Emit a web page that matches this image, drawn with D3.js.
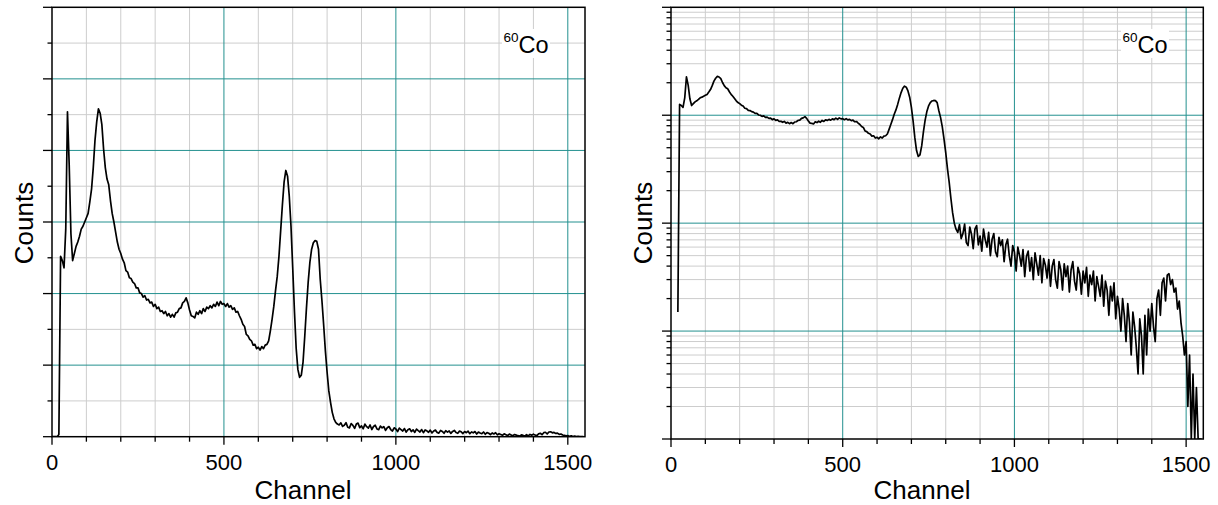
<!DOCTYPE html>
<html lang="en">
  <head>
    <meta charset="UTF-8" />
    <title>60Co spectrum - linear and log</title>
    <script src="https://d3js.org/d3.v7.min.js"></script>
    <style>
      body { margin: 0; background: #fff; }
      text { font-family: "Liberation Sans", Arial, Helvetica, sans-serif; fill: #000; }
    </style>
  </head>
  <body>
    <svg id="chart" width="1218" height="505"></svg>

    <script>
      // spectrum, one value every 5 channels starting at channel 0
      const channelStep = 5;
      const counts = [
        0, 0, 0, 0, 15, 1260, 1230, 1180, 1450, 2270,
        1900, 1420, 1230, 1280, 1330, 1360, 1400, 1450, 1470, 1500,
        1530, 1560, 1640, 1730, 1880, 2070, 2200, 2290, 2260, 2180,
        2010, 1880, 1800, 1760, 1650, 1560, 1500, 1430, 1360, 1310,
        1280, 1240, 1215, 1160, 1150, 1110, 1105, 1080, 1070, 1040,
        1040, 1005, 1000, 975, 985, 955, 960, 935, 940, 910,
        925, 895, 905, 875, 880, 860, 875, 845, 860, 835,
        855, 835, 865, 870, 895, 900, 935, 945, 970, 935,
        885, 845, 840, 830, 870, 855, 880, 860, 895, 875,
        905, 895, 915, 900, 925, 910, 940, 915, 945, 925,
        930, 910, 930, 905, 915, 890, 900, 870, 875, 845,
        820, 785, 770, 715, 705, 680, 670, 640, 645, 615,
        625, 605, 630, 615, 640, 645, 670, 740, 820, 910,
        1020, 1120, 1260, 1440, 1620, 1780, 1860, 1820, 1680, 1470,
        1180, 880, 620, 470, 415, 430, 520, 700, 900, 1080,
        1220, 1310, 1355, 1370, 1365, 1310, 1100, 950, 780, 600,
        450, 320, 240, 170, 125, 100, 88, 82, 97, 72,
        80, 98, 66, 62, 92, 79, 58, 88, 95, 63,
        76, 55, 88, 70, 60, 82, 50, 71, 80, 54,
        49, 74, 62, 70, 44, 63, 71, 50, 40, 62,
        54, 36, 60, 50, 40, 57, 32, 49, 55, 36,
        48, 30, 53, 42, 33, 50, 28, 47, 41, 31,
        46, 26, 40, 46, 30, 25, 44, 37, 24, 42,
        32, 40, 23, 37, 44, 29, 24, 39, 34, 22,
        36, 28, 39, 21, 33, 27, 36, 19, 32, 26,
        21, 33, 17, 29, 24, 14, 26, 19, 28, 13,
        21, 16, 10, 20, 14, 8, 18, 12, 6, 15,
        11, 7, 4, 13, 9, 4, 14, 6, 16, 10,
        18, 11, 8, 20, 24, 14, 28, 31, 19, 33,
        34, 27, 30, 23, 25, 16, 19, 12, 9, 6,
        8, 2, 6, 1, 4, 1, 3, 1, 1, 1
      ];
      const channels = counts.map((d, i) => i * channelStep);

      const channelDomain = [0, 1550];
      const xMajorTicks = [0, 500, 1000, 1500];
      const xMinorTicks = [100, 200, 300, 400, 600, 700, 800, 900, 1100, 1200, 1300, 1400];

      const linDomain = [0, 3000];
      const linMajorTicks = [0, 500, 1000, 1500, 2000, 2500, 3000];
      const linMinorTicks = [250, 750, 1250, 1750, 2250, 2750];

      const logDomain = [1, 10000];
      const logMajorTicks = [1, 10, 100, 1000, 10000];
      const logMinorTicks = [
        2, 3, 4, 5, 6, 7, 8, 9,
        20, 30, 40, 50, 60, 70, 80, 90,
        200, 300, 400, 500, 600, 700, 800, 900,
        2000, 3000, 4000, 5000, 6000, 7000, 8000, 9000
      ];

      const grey = "#cdcdcd";
      const teal = "#23908f";

      const svg = d3.select("#chart");
      const data = channels.map((c, i) => ({ ch: c, v: counts[i] }));

      function drawPanel(p) {
        const g = svg.append("g");
        const x = d3.scaleLinear().domain(channelDomain).range([p.left, p.right]);
        const y = p.y;

        // grid
        g.selectAll(".vminor").data(xMinorTicks).enter().append("line")
          .attr("x1", (d) => x(d)).attr("x2", (d) => x(d))
          .attr("y1", p.top).attr("y2", p.bottom)
          .attr("stroke", grey).attr("stroke-width", 1);
        g.selectAll(".hminor").data(p.minor).enter().append("line")
          .attr("x1", p.left).attr("x2", p.right)
          .attr("y1", (d) => y(d)).attr("y2", (d) => y(d))
          .attr("stroke", grey).attr("stroke-width", 1);
        g.selectAll(".vmajor").data(xMajorTicks.slice(1)).enter().append("line")
          .attr("x1", (d) => x(d)).attr("x2", (d) => x(d))
          .attr("y1", p.top).attr("y2", p.bottom)
          .attr("stroke", teal).attr("stroke-width", 1);
        g.selectAll(".hmajor").data(p.major.slice(1, -1)).enter().append("line")
          .attr("x1", p.left).attr("x2", p.right)
          .attr("y1", (d) => y(d)).attr("y2", (d) => y(d))
          .attr("stroke", teal).attr("stroke-width", 1);

        // spectrum
        g.append("clipPath").attr("id", "clip" + p.id).append("rect")
          .attr("x", p.left).attr("y", p.top)
          .attr("width", p.right - p.left).attr("height", p.bottom - p.top);
        const line = d3.line()
          .defined((d) => !p.log || d.v > 0)
          .x((d) => x(d.ch))
          .y((d) => y(d.v));
        g.append("path")
          .datum(data)
          .attr("clip-path", `url(#clip${p.id})`)
          .attr("fill", "none")
          .attr("stroke", "#000")
          .attr("stroke-width", 1.7)
          .attr("stroke-linejoin", "round")
          .attr("d", line);

        // frame
        g.append("rect")
          .attr("x", p.left).attr("y", p.top)
          .attr("width", p.right - p.left).attr("height", p.bottom - p.top)
          .attr("fill", "none").attr("stroke", "#000").attr("stroke-width", 1.5);

        // ticks
        const yTicks = p.major.map((d) => ({ v: d, len: 9 }))
          .concat(p.minor.map((d) => ({ v: d, len: 4.5 })));
        g.selectAll(".ytick").data(yTicks).enter().append("line")
          .attr("x1", (d) => p.left - d.len).attr("x2", p.left)
          .attr("y1", (d) => y(d.v)).attr("y2", (d) => y(d.v))
          .attr("stroke", "#000").attr("stroke-width", 1.3);
        const xTicks = xMajorTicks.map((d) => ({ v: d, len: 8 }))
          .concat(xMinorTicks.map((d) => ({ v: d, len: 5 })));
        g.selectAll(".xtick").data(xTicks).enter().append("line")
          .attr("x1", (d) => x(d.v)).attr("x2", (d) => x(d.v))
          .attr("y1", p.bottom).attr("y2", (d) => p.bottom + d.len)
          .attr("stroke", "#000").attr("stroke-width", 1.3);

        g.selectAll(".xlabel").data(xMajorTicks).enter().append("text")
          .attr("x", (d) => x(d)).attr("y", p.bottom + 33)
          .attr("text-anchor", "middle").attr("font-size", 22)
          .text((d) => d);

        g.append("text")
          .attr("x", p.left + 251).attr("y", 498.5)
          .attr("text-anchor", "middle").attr("font-size", 26)
          .text("Channel");

        g.append("text")
          .attr("transform", `translate(${p.left - 19.5},223) rotate(-90)`)
          .attr("text-anchor", "middle").attr("font-size", 26)
          .text("Counts");

        // isotope tag
        g.append("rect")
          .attr("x", p.left + 450).attr("y", 29)
          .attr("width", 48).attr("height", 29)
          .attr("fill", "#fff");
        g.append("text")
          .attr("x", p.left + 466.5).attr("y", 41.5)
          .attr("text-anchor", "end").attr("font-size", 13.5)
          .text("60");
        g.append("text")
          .attr("x", p.left + 466.5).attr("y", 53)
          .attr("font-size", 23.5)
          .text("Co");
      }

      drawPanel({
        id: "lin",
        left: 52, right: 585, top: 7.3, bottom: 436.7,
        y: d3.scaleLinear().domain(linDomain).range([436.7, 7.3]),
        major: linMajorTicks, minor: linMinorTicks, log: false
      });

      drawPanel({
        id: "log",
        left: 671, right: 1203.3, top: 7.3, bottom: 439,
        y: d3.scaleLog().domain(logDomain).range([439, 7.3]),
        major: logMajorTicks, minor: logMinorTicks, log: true
      });
    </script>
  </body>
</html>
